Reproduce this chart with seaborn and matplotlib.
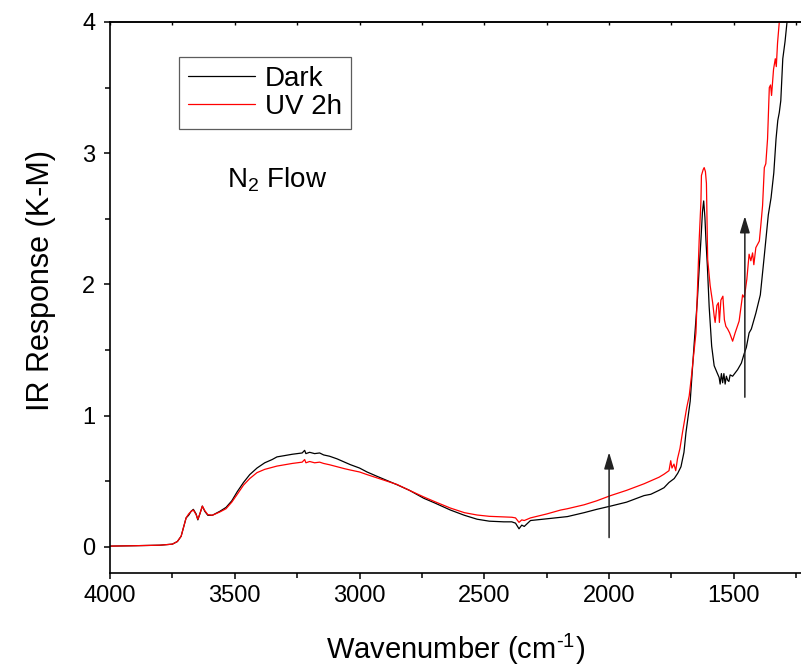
import matplotlib
matplotlib.use("Agg")
import matplotlib.pyplot as plt
import seaborn as sns
import pandas as pd
import numpy as np
from matplotlib.ticker import MultipleLocator

dark_wn = [4000, 3900, 3800, 3750, 3730, 3715, 3705, 3695, 3685, 3675, 3666, 3655, 3648, 3640, 3630,
           3620, 3608, 3590, 3560, 3535, 3512, 3490, 3465, 3440, 3411, 3380, 3350, 3331, 3300, 3270,
           3250, 3230, 3220, 3215, 3200, 3180, 3160, 3144, 3120, 3090, 3060, 3037, 3000, 2970, 2930,
           2890, 2850, 2800, 2743, 2700, 2636, 2580, 2529, 2480, 2422, 2390, 2375, 2361, 2350, 2340,
           2315, 2250, 2167, 2100, 2050, 1994, 1930, 1860, 1833, 1800, 1780, 1760, 1739, 1725, 1712,
           1700, 1692, 1675, 1659, 1646, 1639, 1632, 1626, 1621, 1616, 1612, 1606, 1599, 1589, 1579,
           1568, 1559, 1555, 1550, 1545, 1540, 1535, 1530, 1525, 1520, 1515, 1505, 1485, 1470, 1459,
           1450, 1439, 1430, 1412, 1394, 1378, 1362, 1351, 1340, 1331, 1324, 1318, 1312, 1304, 1295,
           1287, 1280]
dark_val = [0.005, 0.008, 0.012, 0.02, 0.04, 0.08, 0.15, 0.22, 0.24, 0.27, 0.285, 0.25, 0.205, 0.25, 0.31,
            0.27, 0.24, 0.24, 0.27, 0.30, 0.35, 0.42, 0.49, 0.55, 0.60, 0.64, 0.665, 0.685, 0.695, 0.705,
            0.71, 0.715, 0.735, 0.71, 0.72, 0.71, 0.715, 0.70, 0.69, 0.67, 0.645, 0.626, 0.60, 0.57, 0.537,
            0.505, 0.473, 0.43, 0.37, 0.335, 0.28, 0.24, 0.21, 0.195, 0.19, 0.19, 0.18, 0.137, 0.165, 0.155,
            0.20, 0.213, 0.23, 0.26, 0.285, 0.31, 0.34, 0.39, 0.40, 0.43, 0.45, 0.49, 0.52, 0.56, 0.61,
            0.72, 0.87, 1.11, 1.55, 1.89, 2.12, 2.34, 2.55, 2.636, 2.51, 2.34, 2.13, 1.83, 1.53, 1.38,
            1.33, 1.29, 1.24, 1.32, 1.25, 1.32, 1.24, 1.30, 1.27, 1.26, 1.31, 1.30, 1.35, 1.40, 1.47,
            1.52, 1.63, 1.66, 1.78, 1.92, 2.22, 2.53, 2.66, 2.85, 3.11, 3.25, 3.31, 3.40, 3.72, 3.85,
            4.0, 4.15]

uv_wn = [4000, 3900, 3800, 3750, 3730, 3715, 3705, 3695, 3685, 3675, 3666, 3655, 3648, 3640, 3630,
         3620, 3608, 3590, 3560, 3535, 3512, 3490, 3465, 3440, 3411, 3380, 3350, 3331, 3300, 3270,
         3250, 3230, 3220, 3215, 3200, 3180, 3160, 3144, 3120, 3090, 3060, 3037, 3000, 2970, 2930,
         2890, 2850, 2800, 2743, 2700, 2636, 2580, 2529, 2480, 2422, 2390, 2375, 2361, 2350, 2340,
         2315, 2250, 2194, 2167, 2100, 2050, 1994, 1930, 1860, 1800, 1780, 1760, 1753, 1748, 1740,
         1733, 1726, 1716, 1706, 1689, 1679, 1670, 1652, 1643, 1639, 1632, 1630, 1623, 1619, 1614,
         1610, 1605, 1595, 1585, 1579, 1575, 1568, 1562, 1558, 1552, 1544, 1538, 1532, 1525, 1517,
         1505, 1495, 1479, 1465, 1458, 1448, 1439, 1432, 1425, 1420, 1412, 1398, 1392, 1385, 1378,
         1372, 1365, 1358, 1353, 1349, 1341, 1334, 1330, 1325, 1318, 1312]
uv_val = [0.005, 0.008, 0.012, 0.02, 0.04, 0.08, 0.15, 0.22, 0.25, 0.27, 0.28, 0.245, 0.21, 0.25, 0.31,
          0.275, 0.245, 0.24, 0.265, 0.29, 0.34, 0.40, 0.47, 0.52, 0.565, 0.59, 0.605, 0.615, 0.625, 0.635,
          0.64, 0.645, 0.665, 0.64, 0.65, 0.64, 0.645, 0.635, 0.625, 0.61, 0.595, 0.585, 0.57, 0.55, 0.525,
          0.50, 0.475, 0.43, 0.38, 0.345, 0.295, 0.26, 0.242, 0.232, 0.227, 0.225, 0.22, 0.186, 0.205, 0.20,
          0.22, 0.25, 0.28, 0.29, 0.32, 0.35, 0.39, 0.43, 0.48, 0.53, 0.553, 0.58, 0.656, 0.60, 0.63,
          0.58, 0.67, 0.75, 0.87, 1.06, 1.15, 1.30, 1.63, 2.13, 2.34, 2.63, 2.83, 2.875, 2.89, 2.86,
          2.77, 2.19, 1.99, 1.86, 1.76, 1.71, 1.84, 1.86, 1.71, 1.88, 1.91, 1.73, 1.68, 1.66, 1.63,
          1.567, 1.63, 1.72, 1.92, 1.90, 2.04, 2.23, 2.18, 2.24, 2.15, 2.28, 2.33, 2.45, 2.60, 2.89,
          2.92, 3.11, 3.50, 3.52, 3.44, 3.64, 3.72, 3.66, 3.84, 4.0, 4.15]

series_names = ["Dark", "UV 2h"]
series_colors = ["#000000", "#ff0000"]

df = pd.concat([
    pd.DataFrame({"wn": dark_wn, "val": dark_val, "series": series_names[0]}),
    pd.DataFrame({"wn": uv_wn, "val": uv_val, "series": series_names[1]}),
], ignore_index=True)

sns.set_theme(style="ticks")
plt.rcParams["font.family"] = ["Liberation Sans", "DejaVu Sans"]
plt.rcParams["mathtext.fontset"] = "custom"
plt.rcParams["mathtext.rm"] = "Liberation Sans"
plt.rcParams["mathtext.it"] = "Liberation Sans:italic"

fig = plt.figure(figsize=(8.01, 6.68), dpi=100)
ax = fig.add_axes([110/801, 1 - 573/668, 1 - 110/801, (573 - 22)/668])

sns.lineplot(data=df, x="wn", y="val", hue="series", palette=series_colors,
             sort=False, estimator=None, linewidth=0.9, ax=ax)

ax.set_xlim(4000, 1231)
ax.set_ylim(-0.2, 4)
ax.xaxis.set_major_locator(MultipleLocator(500))
ax.xaxis.set_minor_locator(MultipleLocator(250))
ax.yaxis.set_major_locator(MultipleLocator(1))
ax.yaxis.set_minor_locator(MultipleLocator(0.5))
ax.tick_params(which="major", direction="out", length=4.5, width=1.1, labelsize=17, color="black",
               labelcolor="black")
ax.tick_params(axis="y", which="major", pad=6)
ax.tick_params(axis="x", which="major", pad=4)
ax.tick_params(which="minor", direction="out", length=3.5, width=1.1, color="black")
for s in ["left", "bottom", "top"]:
    ax.spines[s].set_linewidth(1.2)
    ax.spines[s].set_color("black")
ax.spines["right"].set_visible(False)

sec = ax.secondary_xaxis("top")
sec.xaxis.set_major_locator(MultipleLocator(250))
sec.tick_params(direction="in", length=2, width=1.0, labeltop=False, color="black")
sec.spines["top"].set_linewidth(1.2)

ax.set_xlabel("Wavenumber (cm$^{\\text{-1}}$)", fontsize=21, color="black")
ax.set_ylabel("IR Response (K-M)", fontsize=22, color="black")
ax.xaxis.set_label_coords(0.5, -0.107)
ax.yaxis.set_label_coords(-0.078, 0.53)

leg = ax.legend(loc="upper left", bbox_to_anchor=(0.1, 0.937), borderaxespad=0,
                fontsize=20, frameon=True, fancybox=False, edgecolor="#333333",
                handlelength=2.4, handletextpad=0.35, labelspacing=0.08, borderpad=0.33)
leg.get_frame().set_linewidth(0.9)
for t in leg.get_texts():
    t.set_color("black")

ax.text(0.169, 0.70, "N$_2$ Flow", transform=ax.transAxes, fontsize=20,
        ha="left", va="baseline", color="black")

arrow_x = [2000, 1456]
arrow_y0 = [0.07, 1.14]
arrow_y1 = [0.72, 2.52]
for xa, y0, y1 in zip(arrow_x, arrow_y0, arrow_y1):
    ax.annotate("", xy=(xa, y1), xytext=(xa, y0),
                arrowprops=dict(arrowstyle="-|>,head_length=1.0,head_width=0.3",
                                mutation_scale=10, color="#222222", linewidth=1.1,
                                shrinkA=0, shrinkB=0))

fig.savefig("out.png", dpi=100)
